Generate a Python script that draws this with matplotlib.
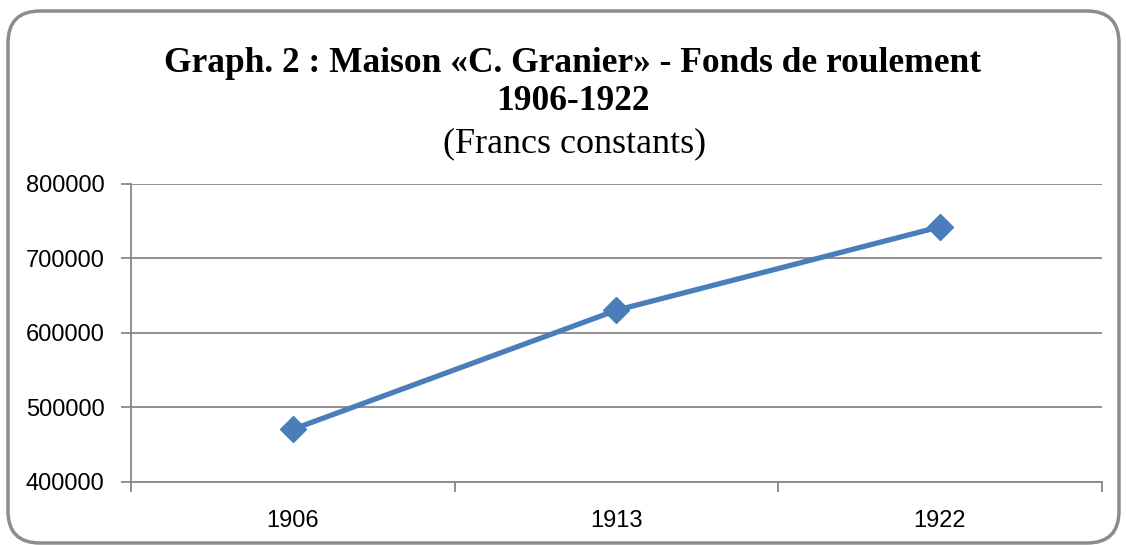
import matplotlib
matplotlib.use("Agg")
import matplotlib.pyplot as plt
from matplotlib.patches import FancyBboxPatch
from matplotlib.ticker import FixedLocator

years = ["1906", "1913", "1922"]
fonds = [470700, 630500, 742500]
y_ticks = [400000, 500000, 600000, 700000, 800000]

line_blue = "#4A7EBB"
grid_gray = "#878787"

fig = plt.figure(figsize=(11.26, 5.45), dpi=100)

# rounded frame drawn in pixel units
bg = fig.add_axes([0, 0, 1, 1])
bg.set_xlim(0, 1126)
bg.set_ylim(0, 545)
bg.axis("off")
frame = FancyBboxPatch((8, 2), 1111, 532, boxstyle="round,pad=0,rounding_size=32",
                       fill=False, edgecolor="#8c8c8c", linewidth=2.5)
bg.add_patch(frame)

bg.text(573, 481, "Graph. 2 : Maison «C. Granier» - Fonds de roulement",
        ha="center", va="center", fontsize=25.5, fontweight="bold", family="Liberation Serif")
bg.text(573, 443, "1906-1922", ha="center", va="center", fontsize=25.5,
        fontweight="bold", family="Liberation Serif")
bg.text(575, 401, "(Francs constants)", ha="center", va="center", fontsize=26,
        family="Liberation Serif")

ax = fig.add_axes([131 / 1126, 63 / 545, (1101.7 - 131) / 1126, (482 - 184) / 545])
x = list(range(len(years)))
ax.plot(x, fonds, color=line_blue, linewidth=3.8, marker="D", markersize=13,
        markerfacecolor=line_blue, markeredgecolor=line_blue, zorder=3)

ax.set_xlim(-0.5, len(years) - 0.5)
ax.set_ylim(400000, 800000)
ax.set_yticks(y_ticks)
ax.set_yticklabels([str(v) for v in y_ticks], fontsize=17, family="Liberation Sans")
ax.set_xticks(x)
ax.set_xticklabels(years, fontsize=17, family="Liberation Sans")
ax.xaxis.set_minor_locator(FixedLocator([i - 0.5 for i in range(len(years) + 1)]))

ax.tick_params(axis="x", which="major", length=0, pad=20)
ax.tick_params(axis="x", which="minor", length=7, width=1.3, color=grid_gray, direction="out")
ax.tick_params(axis="y", length=7, width=1.3, color=grid_gray, direction="out", pad=12)

ax.grid(axis="y", color=grid_gray, linewidth=1.3)
ax.set_axisbelow(True)
for side in ["top", "right"]:
    ax.spines[side].set_visible(False)
for side in ["left", "bottom"]:
    ax.spines[side].set_color(grid_gray)
    ax.spines[side].set_linewidth(1.3)

fig.savefig("out.png", dpi=100)
